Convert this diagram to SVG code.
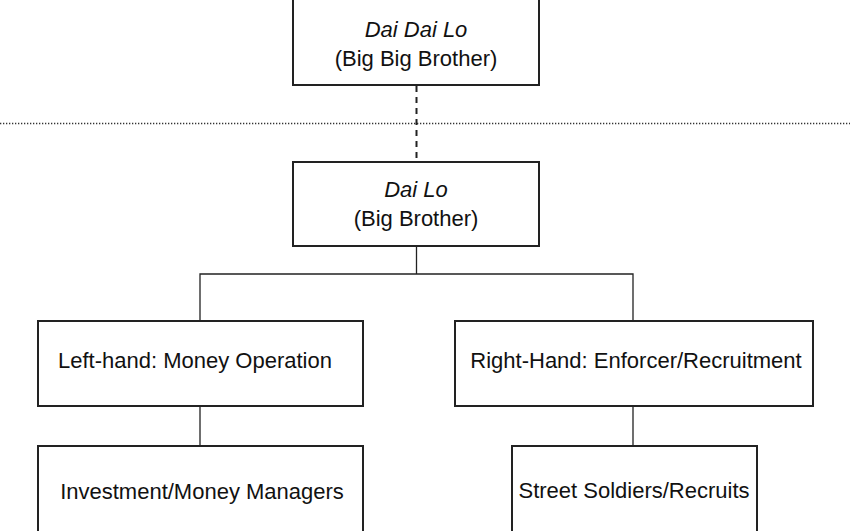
<svg xmlns="http://www.w3.org/2000/svg" width="850" height="531" viewBox="0 0 850 531">
<style>
.box{fill:#fff;stroke:#222;stroke-width:2}
.t{font-family:"Liberation Sans",Arial,sans-serif;font-size:22px;fill:#111;text-anchor:middle}
.i{font-style:italic}
.c{stroke:#222;stroke-width:1.3;fill:none}
</style>
<rect width="850" height="531" fill="#fff"/>
<g id="connectors">
<line x1="0" y1="123.5" x2="850" y2="123.5" stroke="#333" stroke-width="1.3" stroke-dasharray="1.3,1.7"/>
<line x1="416.5" y1="86" x2="416.5" y2="161" stroke="#222" stroke-width="2" stroke-dasharray="6,5"/>
<path class="c" d="M416.5 246V274M200 321V274H633V321M200 406V446M633 406V446"/>
</g>
<g id="daidailo"><rect class="box" x="293" y="-2" width="246" height="87"/>
<text class="t i" x="416" y="37">Dai Dai Lo</text><text class="t" x="416" y="66">(Big Big Brother)</text></g>
<g id="dailo"><rect class="box" x="293" y="162" width="246" height="84"/>
<text class="t i" x="416" y="197">Dai Lo</text><text class="t" x="416" y="226">(Big Brother)</text></g>
<g id="left"><rect class="box" x="38" y="321" width="325" height="85"/>
<text class="t" x="195" y="368">Left-hand: Money Operation</text></g>
<g id="right"><rect class="box" x="455" y="321" width="358" height="85"/>
<text class="t" x="636" y="368">Right-Hand: Enforcer/Recruitment</text></g>
<g id="invest"><rect class="box" x="38" y="446" width="325" height="87"/>
<text class="t" x="202" y="499">Investment/Money Managers</text></g>
<g id="street"><rect class="box" x="512" y="446" width="245" height="87"/>
<text class="t" x="634" y="498">Street Soldiers/Recruits</text></g>
</svg>
